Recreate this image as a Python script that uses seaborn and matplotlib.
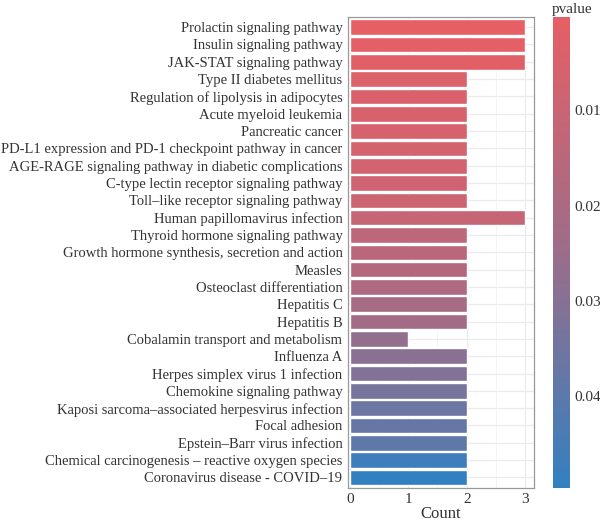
import pandas as pd
import matplotlib.pyplot as plt
import matplotlib as mpl
import seaborn as sns
from matplotlib.colors import LinearSegmentedColormap, Normalize
from matplotlib.ticker import MultipleLocator

# Data (top to bottom as drawn)
pathways = [
    'Prolactin signaling pathway',
    'Insulin signaling pathway',
    'JAK-STAT signaling pathway',
    'Type II diabetes mellitus',
    'Regulation of lipolysis in adipocytes',
    'Acute myeloid leukemia',
    'Pancreatic cancer',
    'PD-L1 expression and PD-1 checkpoint pathway in cancer',
    'AGE-RAGE signaling pathway in diabetic complications',
    'C-type lectin receptor signaling pathway',
    'Toll–like receptor signaling pathway',
    'Human papillomavirus infection',
    'Thyroid hormone signaling pathway',
    'Growth hormone synthesis, secretion and action',
    'Measles',
    'Osteoclast differentiation',
    'Hepatitis C',
    'Hepatitis B',
    'Cobalamin transport and metabolism',
    'Influenza A',
    'Herpes simplex virus 1 infection',
    'Chemokine signaling pathway',
    'Kaposi sarcoma–associated herpesvirus infection',
    'Focal adhesion',
    'Epstein–Barr virus infection',
    'Chemical carcinogenesis – reactive oxygen species',
    'Coronavirus disease - COVID–19',
]
counts = [3, 3, 3, 2, 2, 2, 2, 2, 2, 2, 2, 3, 2, 2, 2, 2, 2, 2, 1, 2, 2, 2, 2, 2, 2, 2, 2]
pvalues = [0.0002, 0.0010, 0.0018, 0.0040, 0.0045, 0.0050, 0.0055, 0.0065, 0.0070,
           0.0080, 0.0085, 0.0110, 0.0140, 0.0150, 0.0165, 0.0185, 0.0210, 0.0225,
           0.0270, 0.0290, 0.0310, 0.0335, 0.0360, 0.0375, 0.0395, 0.0470, 0.0496]
cbar_ticks = [0.01, 0.02, 0.03, 0.04]

df = pd.DataFrame({'Description': pathways, 'Count': counts, 'pvalue': pvalues})

# Style
sns.set_style('white')
plt.rcParams['font.family'] = ['Liberation Serif', 'DejaVu Serif']
text_col = '#333333'

cmap = LinearSegmentedColormap.from_list('pv', ['#E65F65', '#9C6D8A', '#3380C0'])
norm = Normalize(vmin=min(pvalues), vmax=max(pvalues))

fig = plt.figure(figsize=(6, 5.24), dpi=100)
ax = fig.add_axes([0.58, 0.069, 0.31, 0.899])
cax = fig.add_axes([0.922, 0.069, 0.028, 0.899])

sns.barplot(data=df, x='Count', y='Description', hue='pvalue', palette=cmap,
            hue_norm=norm, dodge=False, legend=False, width=0.9, saturation=1,
            edgecolor='white', linewidth=1.0, ax=ax, zorder=3)

ax.set_xlim(-0.03, 3.15)
ax.set_ylim(len(pathways) - 0.4, -0.6)
ax.xaxis.set_major_locator(MultipleLocator(1))
ax.xaxis.set_minor_locator(MultipleLocator(0.5))
ax.grid(True, which='major', axis='both', color='#EBEBEB', lw=0.9, zorder=0)
ax.grid(True, which='minor', axis='x', color='#F2F2F2', lw=0.6, zorder=0)
ax.set_axisbelow(True)
for s in ax.spines.values():
    s.set_color('#999999')
    s.set_linewidth(0.9)
ax.tick_params(axis='both', which='major', length=3, width=0.8, color='#666666',
               labelsize=10.5, labelcolor=text_col, pad=1)
ax.tick_params(axis='x', which='major', labelsize=11)
ax.tick_params(axis='both', which='minor', length=0)
ax.set_xlabel('Count', fontsize=12, color=text_col, labelpad=0)
ax.set_ylabel('')

# Colorbar (low p-values at the top, as in ggplot's reversed guide)
sm = mpl.cm.ScalarMappable(norm=norm, cmap=cmap)
cb = fig.colorbar(sm, cax=cax, ticks=cbar_ticks)
cb.outline.set_visible(False)
cax.invert_yaxis()
cb.ax.set_yticklabels([f'{t:.2f}' for t in cbar_ticks])
cb.ax.tick_params(direction='in', length=6, width=1.2, color='white',
                  labelsize=11, labelcolor=text_col, pad=3)
cb.ax.text(-0.1, 1.002, 'pvalue', transform=cax.transAxes, ha='left', va='bottom',
           fontsize=11, color=text_col)

fig.savefig('out.png', dpi=100)
